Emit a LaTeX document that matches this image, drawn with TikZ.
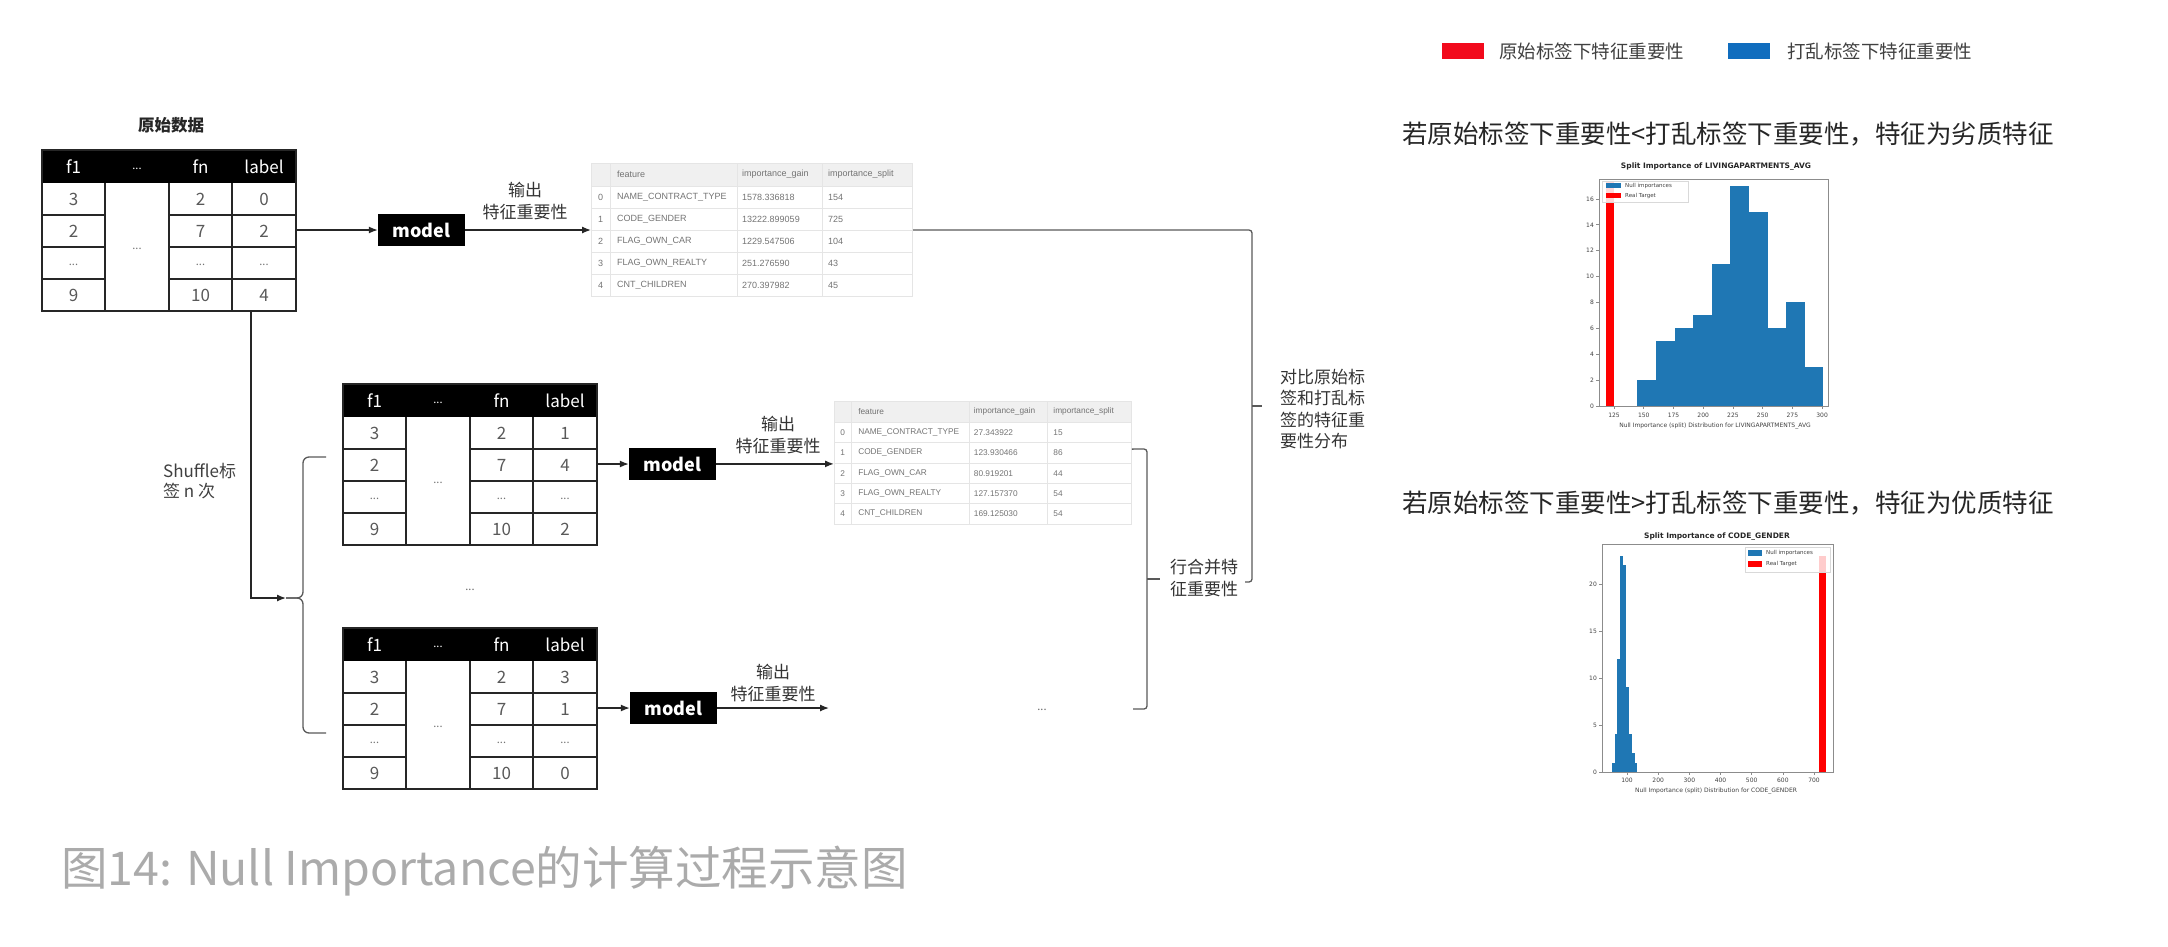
\documentclass[tikz,border=0pt]{standalone}
\usepackage{fontspec}
\setmainfont{Noto Sans CJK SC}
\newfontfamily\tabfont{Liberation Sans}
\newfontfamily\plotfont{DejaVu Sans}
\usetikzlibrary{arrows.meta}
\definecolor{nullblue}{HTML}{1F77B4}
\definecolor{realred}{HTML}{FF0000}
\definecolor{legred}{HTML}{F20A1C}
\definecolor{legblue}{HTML}{106DBE}

\begin{document}
\begin{tikzpicture}[x=1pt, y=-1pt,
    conn/.style={draw=black!85, line width=1.3pt},
    arr/.style={conn, -{Latex[length=9pt,width=7pt]}},
    brk/.style={draw=black!65, line width=1.3pt, rounded corners=3pt},
    grid/.style={draw=black!85, line width=1.8pt},
    cell/.style={font=\fontsize{17}{17}\selectfont, text=black!65, inner sep=0pt},
    hcell/.style={font=\fontsize{17}{17}\selectfont, text=white, inner sep=0pt},
    ellip/.style={font=\fontsize{11}{11}\selectfont, inner sep=0pt},
    modelbox/.style={fill=black, text=white, font=\fontsize{18}{18}\selectfont\bfseries,
        minimum width=87pt, minimum height=32pt, inner sep=0pt},
    note/.style={font=\fontsize{17}{21.5}\selectfont, text=black!80, inner sep=0pt},
    orule/.style={draw=black!10, line width=0.8pt},
    otext/.style={font=\tabfont\fontsize{9}{9}\selectfont, text=black!55, inner sep=0pt, anchor=west},
    ptext/.style={font=\plotfont\fontsize{6}{6}\selectfont, text=black!75, inner sep=0pt},
    ptitle/.style={font=\plotfont\bfseries\fontsize{7.5}{7.5}\selectfont, text=black!85, inner sep=0pt},
    axis/.style={draw=black!45, line width=0.7pt}
]
    \useasboundingbox (0,0) rectangle (2168,946);

    % Input tables: original labels and two shuffled copies
    \node[font=\fontsize{16.5}{16.5}\selectfont\bfseries, text=black!85] (raw) at (171,125) {原始数据};
    \foreach \t/\tx/\ty/\la/\lb/\ld in {ta/42/150/0/2/4, tb/343/384/1/4/2, tc/343/628/3/1/0} {
        \fill[black] (\tx,\ty) rectangle ++(254,33);
        \node[hcell] (\t-h1) at (\tx+31.5,\ty+16.5) {f1};
        \node[hcell, ellip] (\t-h2) at (\tx+95,\ty+19) {...};
        \node[hcell] (\t-h3) at (\tx+158.5,\ty+16.5) {fn};
        \node[hcell] (\t-h4) at (\tx+222,\ty+16.5) {label};
        \draw[grid] (\tx,\ty) rectangle ++(254,161)
            (\tx+63,\ty+33) -- ++(0,128) (\tx+127,\ty+33) -- ++(0,128) (\tx+190,\ty+33) -- ++(0,128);
        \foreach \r in {1,2,3}
            \draw[grid] (\tx,\ty+33+32*\r) -- ++(63,0) (\tx+127,\ty+33+32*\r) -- ++(127,0);
        \node[cell] (\t-a1) at (\tx+31.5,\ty+49) {3};
        \node[cell] (\t-a2) at (\tx+31.5,\ty+81) {2};
        \node[cell, ellip, text=black!55] (\t-a3) at (\tx+31.5,\ty+115) {...};
        \node[cell] (\t-a4) at (\tx+31.5,\ty+145) {9};
        \node[cell, ellip, text=black!55] (\t-mid) at (\tx+95,\ty+99) {...};
        \node[cell] (\t-c1) at (\tx+158.5,\ty+49) {2};
        \node[cell] (\t-c2) at (\tx+158.5,\ty+81) {7};
        \node[cell, ellip, text=black!55] (\t-c3) at (\tx+158.5,\ty+115) {...};
        \node[cell] (\t-c4) at (\tx+158.5,\ty+145) {10};
        \node[cell] (\t-d1) at (\tx+222,\ty+49) {\la};
        \node[cell] (\t-d2) at (\tx+222,\ty+81) {\lb};
        \node[cell, ellip, text=black!55] (\t-d3) at (\tx+222,\ty+115) {...};
        \node[cell] (\t-d4) at (\tx+222,\ty+145) {\ld};
        \coordinate (\t-out) at (\tx+254,\ty+80);
        \coordinate (\t-foot) at (\tx+209,\ty+161);
    }
    \node[cell, ellip, text=black!60] (tdots) at (470,590) {...};

    % Models
    \node[modelbox] (m1) at (421.5,230) {model};
    \node[modelbox] (m2) at (672.5,464) {model};
    \node[modelbox] (m3) at (673.5,708) {model};
    \draw[arr] (ta-out) -- (ta-out -| m1.west);
    \draw[arr] (tb-out) -- (tb-out -| m2.west);
    \draw[arr] (tc-out) -- (tc-out -| m3.west);

    % Feature importance, original labels
    \begin{scope}[shift={(591,163)}]
        \fill[black!6] (0,0) rectangle (321,23);
        \draw[orule] (0,0) rectangle (321,133);
        \foreach \yy in {23,45,67,89,111} \draw[orule] (0,\yy) -- (321,\yy);
        \foreach \xx in {19,146,231} \draw[orule] (\xx,0) -- (\xx,133);
        \node[otext] (oa-hf) at (26,11.5) {feature};
        \node[otext] (oa-hg) at (151,11.5) {importance\_gain};
        \node[otext] (oa-hs) at (237,11.5) {importance\_split};
        \foreach \i/\f/\g/\s in {0/NAME\_CONTRACT\_TYPE/1578.336818/154, 1/CODE\_GENDER/13222.899059/725,
                2/FLAG\_OWN\_CAR/1229.547506/104, 3/FLAG\_OWN\_REALTY/251.276590/43, 4/CNT\_CHILDREN/270.397982/45} {
            \node[otext, anchor=center] (oa-i\i) at (9.5,34+22*\i) {\i};
            \node[otext] (oa-f\i) at (26,34+22*\i) {\f};
            \node[otext] (oa-g\i) at (151,34+22*\i) {\g};
            \node[otext] (oa-s\i) at (237,34+22*\i) {\s};
        }
        \coordinate (oa-in) at (0,67);
        \coordinate (oa-out) at (322,67);
    \end{scope}

    % Feature importance, shuffled labels
    \begin{scope}[shift={(834,401)}, scale=0.925, otext/.append style={font=\tabfont\fontsize{8.3}{8.3}\selectfont}]
        \fill[black!6] (0,0) rectangle (321,23);
        \draw[orule] (0,0) rectangle (321,133);
        \foreach \yy in {23,45,67,89,111} \draw[orule] (0,\yy) -- (321,\yy);
        \foreach \xx in {19,146,231} \draw[orule] (\xx,0) -- (\xx,133);
        \node[otext] (ob-hf) at (26,11.5) {feature};
        \node[otext] (ob-hg) at (151,11.5) {importance\_gain};
        \node[otext] (ob-hs) at (237,11.5) {importance\_split};
        \foreach \i/\f/\g/\s in {0/NAME\_CONTRACT\_TYPE/27.343922/15, 1/CODE\_GENDER/123.930466/86,
                2/FLAG\_OWN\_CAR/80.919201/44, 3/FLAG\_OWN\_REALTY/127.157370/54, 4/CNT\_CHILDREN/169.125030/54} {
            \node[otext, anchor=center] (ob-i\i) at (9.5,34+22*\i) {\i};
            \node[otext] (ob-f\i) at (26,34+22*\i) {\f};
            \node[otext] (ob-g\i) at (151,34+22*\i) {\g};
            \node[otext] (ob-s\i) at (237,34+22*\i) {\s};
        }
        \coordinate (ob-in) at (0,68);
        \coordinate (ob-out) at (322,52);
    \end{scope}

    \draw[arr] (m1.east |- oa-in) -- (oa-in);
    \draw[arr] (m2.east |- ob-in) -- (ob-in);
    \coordinate (e3) at (829,708);
    \draw[arr] (m3.east |- e3) -- (e3);
    \node[cell, ellip, text=black!60] (odots) at (1042,710) {...};
    \node[note, align=center] (n1) at (525,201) {输出\\特征重要性};
    \node[note, align=center] (n2) at (778,435) {输出\\特征重要性};
    \node[note, align=center] (n3) at (773,683) {输出\\特征重要性};

    % Shuffle branch
    \node[note, align=left, anchor=west, font=\fontsize{17}{20}\selectfont, text=black!75] (shuf) at (163,481) {Shuffle标\\签 n 次};
    \coordinate (bt) at (286,598);
    \draw[arr] (ta-foot) |- (bt);
    \draw[brk, rounded corners=6pt] (326,457) -- (303,457) -- (303,598) -- (bt);
    \draw[brk, rounded corners=6pt] (bt) -- (303,598) -- (303,733) -- (326,733);

    % Brackets on the right
    \draw[brk] (ob-out) -- (1147,449) -- (1147,709) -- (1133,709);
    \draw[brk] (1147,579) -- (1160,579);
    \node[note, align=left, anchor=west] (merge) at (1170,578) {行合并特\\征重要性};
    \draw[brk] (oa-out) -- (1252,230) -- (1252,582) -- (1245,582);
    \draw[brk] (1252,406) -- (1262,406);
    \node[note, align=left, anchor=west] (cmp) at (1280,409) {对比原始标\\签和打乱标\\签的特征重\\要性分布};

    % Legend and rules
    \fill[legred] (1442,43) rectangle (1484,59);
    \node[anchor=west, font=\fontsize{18.5}{18.5}\selectfont, text=black!75, inner sep=0pt] (lg1) at (1499,51) {原始标签下特征重要性};
    \fill[legblue] (1728,43) rectangle (1770,59);
    \node[anchor=west, font=\fontsize{18.5}{18.5}\selectfont, text=black!75, inner sep=0pt] (lg2) at (1787,51) {打乱标签下特征重要性};
    \node[anchor=west, font=\fontsize{25.5}{25.5}\selectfont, text=black!85, inner sep=0pt] (rule1) at (1402,134) {若原始标签下重要性<打乱标签下重要性，特征为劣质特征};
    \node[anchor=west, font=\fontsize{25.5}{25.5}\selectfont, text=black!85, inner sep=0pt] (rule2) at (1402,503) {若原始标签下重要性>打乱标签下重要性，特征为优质特征};

    % Histogram: LIVINGAPARTMENTS_AVG
    \node[ptitle] (h1t) at (1716,167) {Split Importance of LIVINGAPARTMENTS\_AVG};
    \begin{scope}[shift={(1637.3,406)}]
        \foreach \i/\h in {0/2,1/5,2/6,3/7,4/11,5/17,6/15,7/6,8/8,9/3}
            \fill[nullblue] (18.6*\i,0) rectangle ++(18.6,-12.94*\h);
    \end{scope}
    \fill[realred] (1606,406) rectangle (1614,181);
    \draw[axis] (1599,179) rectangle (1828,406);
    \foreach \v [count=\k from 0] in {125,150,...,300} {
        \draw[axis] (1614+29.73*\k,406) -- ++(0,3);
        \node[ptext] (h1x\k) at (1614+29.73*\k,415) {\v};
    }
    \foreach \c in {0,2,...,16} {
        \draw[axis] (1599,406-12.94*\c) -- ++(-3,0);
        \node[ptext, anchor=east] (h1y\c) at (1594,406-12.94*\c) {\c};
    }
    \draw[black!15, fill=white, fill opacity=0.85] (1602,181) rectangle (1688,202);
    \fill[nullblue] (1606,183) rectangle (1621,188);
    \node[ptext, anchor=west, font=\plotfont\fontsize{5.5}{5.5}\selectfont] (h1l1) at (1625,185.5) {Null importances};
    \fill[realred] (1606,193) rectangle (1621,198);
    \node[ptext, anchor=west, font=\plotfont\fontsize{5.5}{5.5}\selectfont] (h1l2) at (1625,195.5) {Real Target};
    \node[ptext] (h1xl) at (1715,426) {Null Importance (split) Distribution for LIVINGAPARTMENTS\_AVG};

    % Histogram: CODE_GENDER
    \node[ptitle] (h2t) at (1717,537) {Split Importance of CODE\_GENDER};
    \begin{scope}[shift={(1611.7,772)}]
        \foreach \i/\h in {0/1,1/4,2/12,3/23,4/22,5/9,6/4,7/2,8/1}
            \fill[nullblue] (2.85*\i,0) rectangle ++(2.85,-9.4*\h);
    \end{scope}
    \fill[realred] (1819,772) rectangle (1826,556);
    \draw[axis] (1602,544) rectangle (1833,772);
    \foreach \v [count=\k from 0] in {100,200,...,700} {
        \draw[axis] (1627+31.17*\k,772) -- ++(0,3);
        \node[ptext] (h2x\k) at (1627+31.17*\k,780) {\v};
    }
    \foreach \c in {0,5,...,20} {
        \draw[axis] (1602,772-9.4*\c) -- ++(-3,0);
        \node[ptext, anchor=east] (h2y\c) at (1597,772-9.4*\c) {\c};
    }
    \draw[black!15, fill=white, fill opacity=0.8] (1745,547) rectangle (1830,572);
    \fill[nullblue] (1748,550) rectangle (1762,556);
    \node[ptext, anchor=west, font=\plotfont\fontsize{5.5}{5.5}\selectfont] (h2l1) at (1766,553) {Null importances};
    \fill[realred] (1748,561) rectangle (1762,567);
    \node[ptext, anchor=west, font=\plotfont\fontsize{5.5}{5.5}\selectfont] (h2l2) at (1766,564) {Real Target};
    \node[ptext] (h2xl) at (1716,791) {Null Importance (split) Distribution for CODE\_GENDER};

    % Caption
    \node[anchor=west, font=\fontsize{46.5}{46.5}\selectfont, text=black!33, inner sep=0pt] (cap) at (61,871) {图14: Null Importance的计算过程示意图};
\end{tikzpicture}
\end{document}
